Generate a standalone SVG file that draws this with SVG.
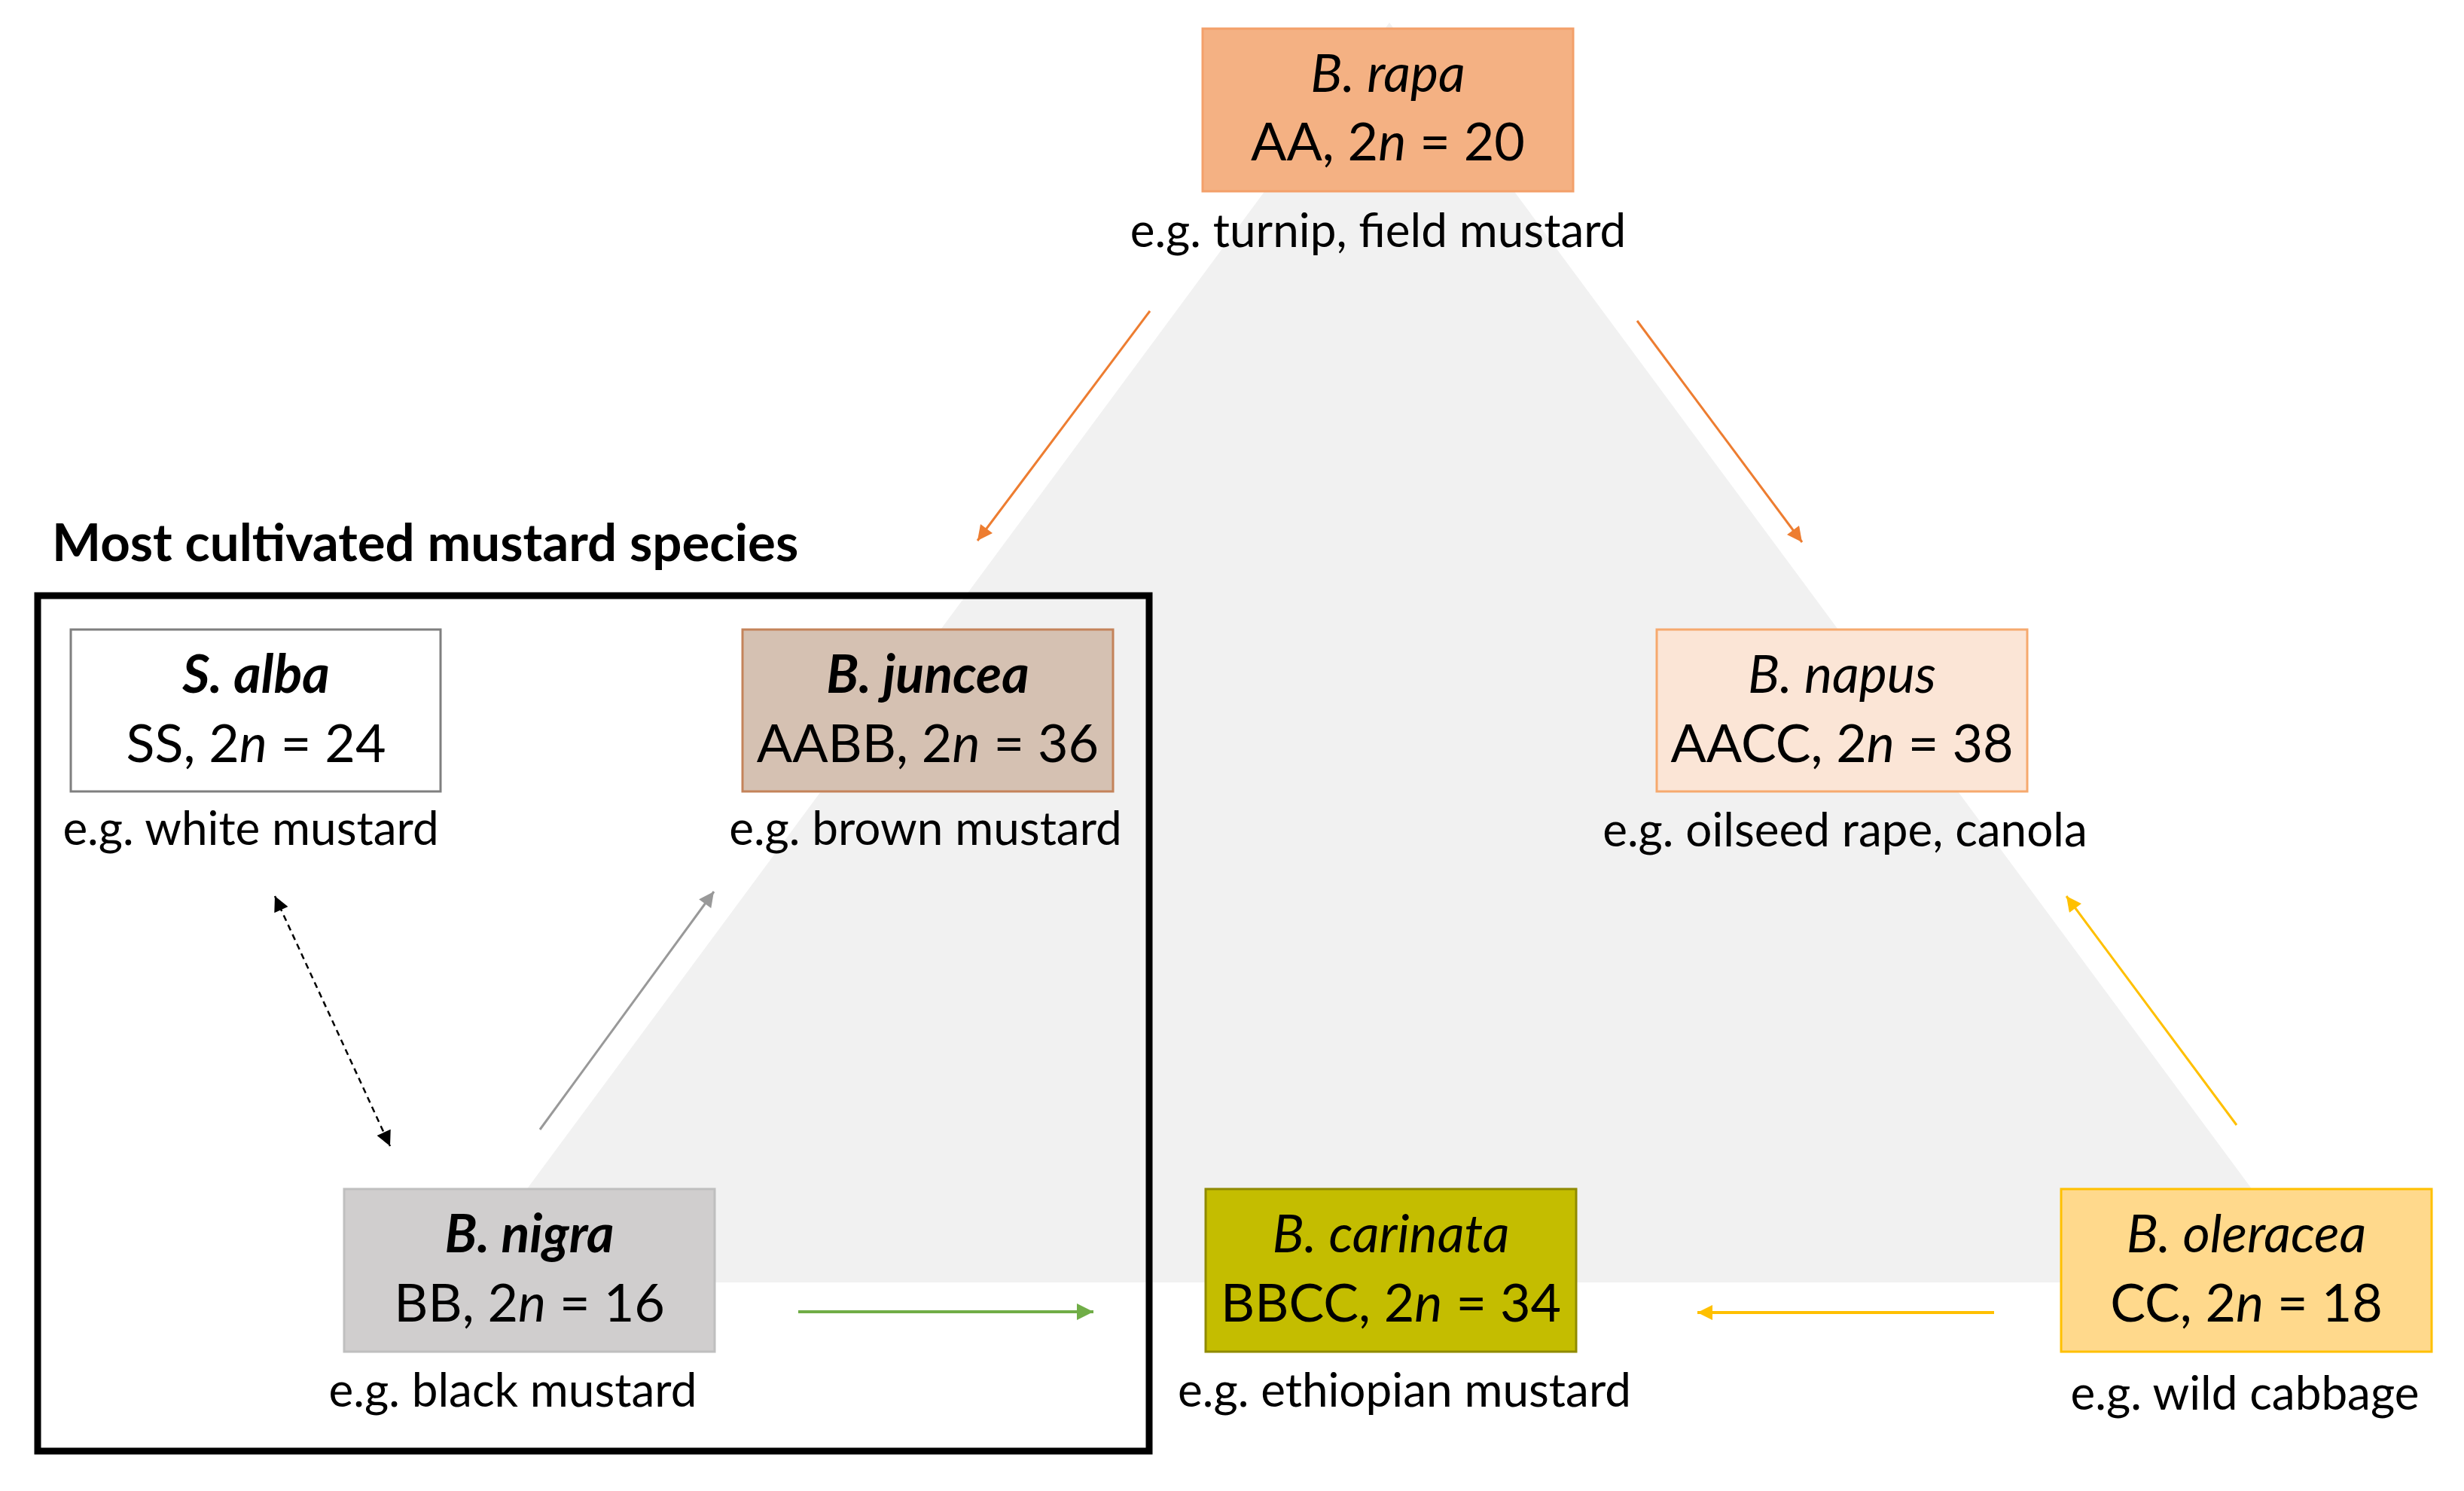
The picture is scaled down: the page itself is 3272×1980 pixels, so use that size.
<svg xmlns="http://www.w3.org/2000/svg" width="3272" height="1980" viewBox="0 0 3272 1980">
<style>
  text { font-family: Lato, "Liberation Sans", "DejaVu Sans", sans-serif; fill: #000; }
  .nm { font-size: 70px; font-style: italic; text-anchor: middle; }
  .nmb { font-size: 70px; font-style: italic; font-weight: bold; text-anchor: middle; }
  .gn { font-size: 70px; text-anchor: middle; }
  .lb { font-size: 62px; text-anchor: middle; }
  .box { stroke-width: 3; }
  .arr { fill: none; }
</style>
<defs>
  <marker id="mo" viewBox="0 0 10 10" refX="10" refY="5" markerWidth="28" markerHeight="20" markerUnits="userSpaceOnUse" orient="auto"><path d="M0,0 L10,5 L0,10 z" fill="#ED7D31"/></marker>
  <marker id="my" viewBox="0 0 10 10" refX="10" refY="5" markerWidth="28" markerHeight="20" markerUnits="userSpaceOnUse" orient="auto"><path d="M0,0 L10,5 L0,10 z" fill="#FFC000"/></marker>
  <marker id="mg" viewBox="0 0 10 10" refX="10" refY="5" markerWidth="28" markerHeight="22" markerUnits="userSpaceOnUse" orient="auto"><path d="M0,0 L10,5 L0,10 z" fill="#70AD47"/></marker>
  <marker id="mgr" viewBox="0 0 10 10" refX="10" refY="5" markerWidth="28" markerHeight="20" markerUnits="userSpaceOnUse" orient="auto"><path d="M0,0 L10,5 L0,10 z" fill="#999999"/></marker>
  <marker id="mk" viewBox="0 0 10 10" refX="10" refY="5" markerWidth="28" markerHeight="20" markerUnits="userSpaceOnUse" orient="auto-start-reverse"><path d="M0,0 L10,5 L0,10 z" fill="#000"/></marker>
</defs>
<rect width="3272" height="1980" fill="#fff"/>
<polygon id="triangle" points="1845,30 3082,1703 608,1703" fill="#F1F1F1"/>

<text x="69" y="745" font-size="69" font-weight="bold">Most cultivated mustard species</text>
<rect id="cultivated-frame" x="50" y="791" width="1476" height="1136" fill="none" stroke="#000" stroke-width="9"/>

<g id="connectors" class="arr">
  <line x1="1527" y1="413" x2="1298" y2="718" stroke="#ED7D31" stroke-width="3" marker-end="url(#mo)"/>
  <line x1="2174" y1="426" x2="2393" y2="720" stroke="#ED7D31" stroke-width="3" marker-end="url(#mo)"/>
  <line x1="2970" y1="1494" x2="2744" y2="1190" stroke="#FFC000" stroke-width="3" marker-end="url(#my)"/>
  <line x1="2648" y1="1743" x2="2254" y2="1743" stroke="#FFC000" stroke-width="4" marker-end="url(#my)"/>
  <line x1="1060" y1="1742" x2="1452" y2="1742" stroke="#70AD47" stroke-width="4" marker-end="url(#mg)"/>
  <line x1="717" y1="1500" x2="948" y2="1184" stroke="#999999" stroke-width="3" marker-end="url(#mgr)"/>
  <line x1="365" y1="1190" x2="518" y2="1522" stroke="#000" stroke-width="2.5" stroke-dasharray="8 6" marker-start="url(#mk)" marker-end="url(#mk)"/>
</g>

<g id="b-rapa">
  <rect class="box" x="1597" y="38" width="492" height="216" fill="#F4B183" stroke="#F3A06A"/>
  <text class="nm" x="1843" y="122">B. rapa</text>
  <text class="gn" x="1843" y="213">AA, 2<tspan font-style="italic">n</tspan> = 20</text>
  <text class="lb" x="1830" y="328">e.g. turnip, field mustard</text>
</g>

<g id="s-alba">
  <rect class="box" x="94" y="836" width="491" height="215" fill="#FFFFFF" stroke="#7F7F7F"/>
  <text class="nmb" x="340" y="920">S. alba</text>
  <text class="gn" x="340" y="1012">SS, 2<tspan font-style="italic">n</tspan> = 24</text>
  <text class="lb" x="333" y="1122">e.g. white mustard</text>
</g>

<g id="b-juncea">
  <rect class="box" x="986" y="836" width="492" height="215" fill="#D5C1B2" stroke="#C4835A"/>
  <text class="nmb" x="1232" y="920">B. juncea</text>
  <text class="gn" x="1232" y="1012">AABB, 2<tspan font-style="italic">n</tspan> = 36</text>
  <text class="lb" x="1229" y="1122">e.g. brown mustard</text>
</g>

<g id="b-napus">
  <rect class="box" x="2200" y="836" width="492" height="215" fill="#FBE5D6" stroke="#F6A96E"/>
  <text class="nm" x="2446" y="920">B. napus</text>
  <text class="gn" x="2446" y="1012">AACC, 2<tspan font-style="italic">n</tspan> = 38</text>
  <text class="lb" x="2450" y="1124">e.g. oilseed rape, canola</text>
</g>

<g id="b-nigra">
  <rect class="box" x="457" y="1579" width="492" height="216" fill="#D0CECE" stroke="#BFBFBF"/>
  <text class="nmb" x="703" y="1663">B. nigra</text>
  <text class="gn" x="703" y="1755">BB, 2<tspan font-style="italic">n</tspan> = 16</text>
  <text class="lb" x="681" y="1868">e.g. black mustard</text>
</g>

<g id="b-carinata">
  <rect class="box" x="1601" y="1579" width="492" height="216" fill="#C4BD00" stroke="#8F8A00"/>
  <text class="nm" x="1847" y="1663">B. carinata</text>
  <text class="gn" x="1847" y="1755">BBCC, 2<tspan font-style="italic">n</tspan> = 34</text>
  <text class="lb" x="1865" y="1868">e.g. ethiopian mustard</text>
</g>

<g id="b-oleracea">
  <rect class="box" x="2737" y="1579" width="492" height="216" fill="#FFD98C" stroke="#FFC000"/>
  <text class="nm" x="2983" y="1663">B. oleracea</text>
  <text class="gn" x="2983" y="1755">CC, 2<tspan font-style="italic">n</tspan> = 18</text>
  <text class="lb" x="2981" y="1872">e.g. wild cabbage</text>
</g>
</svg>
